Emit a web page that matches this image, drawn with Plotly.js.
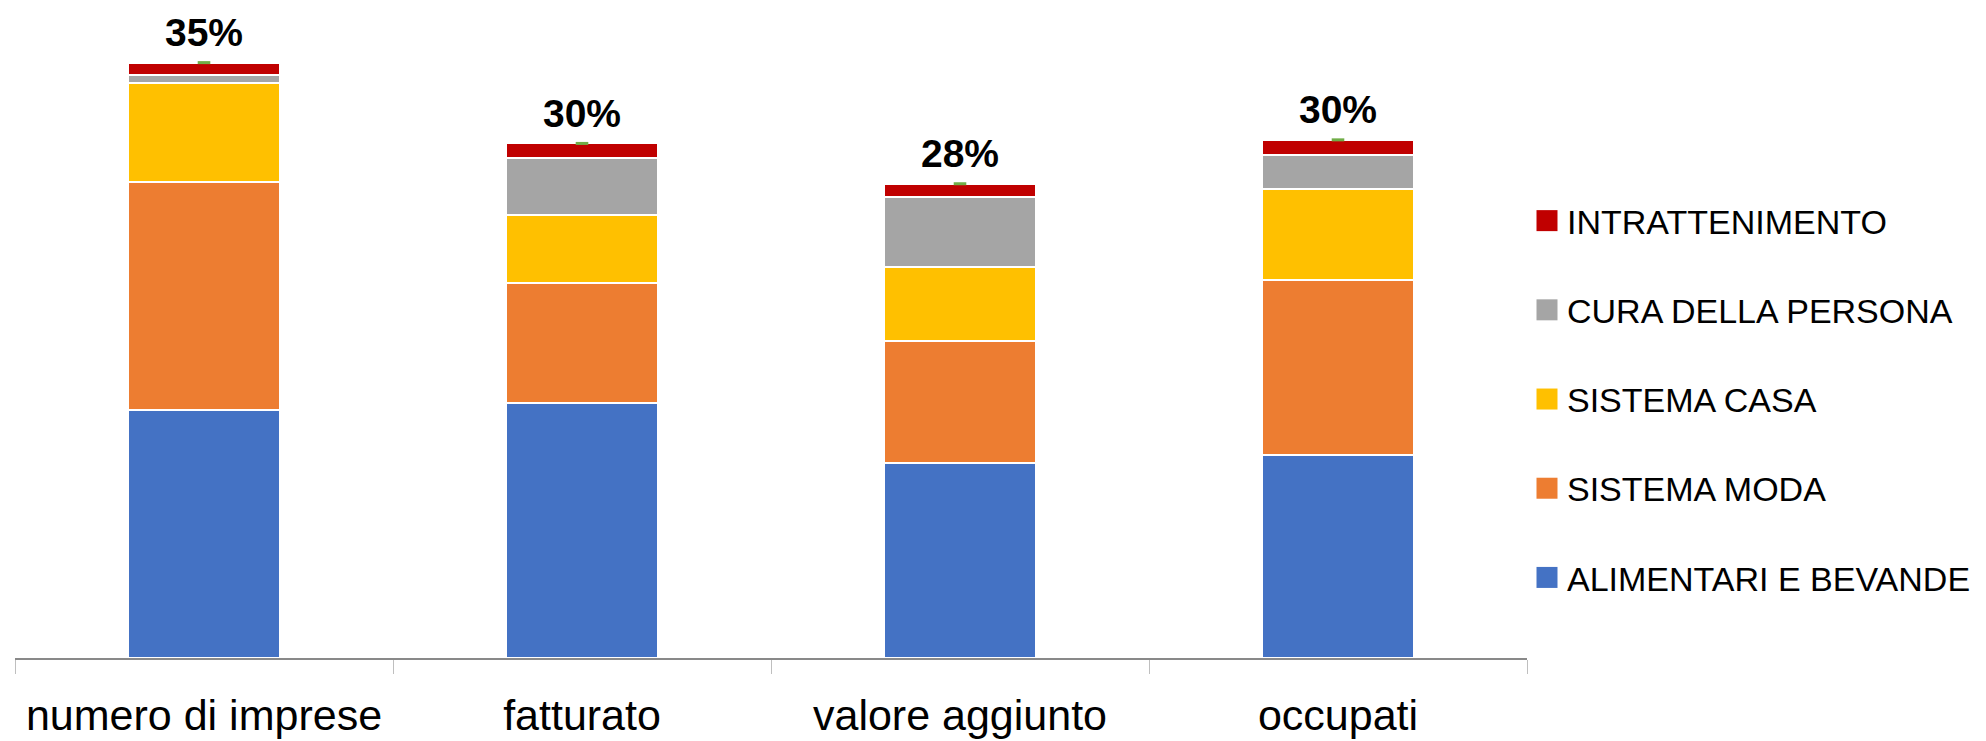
<!DOCTYPE html>
<html>
<head>
<meta charset="utf-8">
<script src="https://cdn.plot.ly/plotly-3.0.1.min.js"></script>
<style>
  html, body { margin: 0; padding: 0; background: #ffffff; }
  #chart { width: 1986px; height: 741px; }
</style>
</head>
<body>
<div id="chart"></div>
<script>
// ---- data (percent shares) ----
const categories = ["numero di imprese", "fatturato", "valore aggiunto", "occupati"];
const alimentari = [14.55, 14.98, 11.46, 11.93];
const moda       = [13.44, 7.07, 7.20, 10.28];
const casa       = [5.79, 4.01, 4.33, 5.37];
const cura       = [0.47, 3.34, 4.10, 2.00];
const intratt    = [0.75, 0.85, 0.79, 0.88];
const totalLabels = ["35%", "30%", "28%", "30%"];

const seriesNames = ["ALIMENTARI E BEVANDE", "SISTEMA MODA", "SISTEMA CASA", "CURA DELLA PERSONA", "INTRATTENIMENTO"];
const seriesValues = [alimentari, moda, casa, cura, intratt];
const seriesColors = ["#4472C4", "#ED7D31", "#FFC000", "#A5A5A5", "#C00000"];

const totals = categories.map((_, i) => seriesValues.reduce((s, arr) => s + arr[i], 0));

const FONT = "Liberation Sans, Arial, sans-serif";

const traces = seriesNames.map((name, k) => ({
  type: "bar",
  name: name,
  x: categories,
  y: seriesValues[k],
  width: 0.4,
  legendgroup: "g" + k,
  legendrank: 1000 - k,
  marker: { color: seriesColors[k], line: { color: "#ffffff", width: 2 } },
  hoverinfo: "name+y"
}));

traces.push({
  type: "scatter",
  mode: "markers+text",
  x: categories,
  y: totals,
  text: totalLabels,
  textposition: "top center",
  textfont: { family: FONT, size: 39, color: "#000000", weight: "bold" },
  marker: { symbol: "line-ew", size: 9, color: "#70AD47", line: { color: "#70AD47", width: 3 } },
  cliponaxis: false,
  showlegend: false,
  hoverinfo: "skip"
});

const layout = {
  width: 1986,
  height: 741,
  margin: { l: 15, r: 459, t: 40, b: 83, autoexpand: false },
  paper_bgcolor: "#ffffff",
  plot_bgcolor: "#ffffff",
  barmode: "stack",
  showlegend: true,
  font: { family: FONT, color: "#000000" },
  xaxis: {
    type: "category",
    showline: true,
    linecolor: "#898989",
    linewidth: 2,
    ticks: "outside",
    tickson: "boundaries",
    ticklen: 14,
    tickwidth: 1,
    tickcolor: "#BFBFBF",
    ticklabelstandoff: 18,
    tickfont: { family: FONT, size: 43, color: "#000000" },
    showgrid: false,
    zeroline: false,
    automargin: false,
    fixedrange: true
  },
  yaxis: {
    range: [0, 36.33],
    visible: false,
    showgrid: false,
    zeroline: false,
    fixedrange: true
  },
  legend: {
    x: 1.0,
    xanchor: "left",
    y: 0.754,
    yanchor: "top",
    traceorder: "grouped",
    tracegroupgap: 42,
    font: { family: FONT, size: 34, color: "#000000" },
    bgcolor: "rgba(0,0,0,0)",
    borderwidth: 0
  }
};

function enlargeLegendSymbols() {
  document.querySelectorAll("#chart .legend .legendpoints path").forEach(p => {
    p.setAttribute("d", "M10.5,10.5H-10.5V-10.5H10.5Z");
    p.style.strokeWidth = "0px";
  });
}

Plotly.newPlot("chart", traces, layout, { displayModeBar: false, staticPlot: true }).then(() => {
  enlargeLegendSymbols();
  setTimeout(enlargeLegendSymbols, 50);
  setTimeout(enlargeLegendSymbols, 300);
});
</script>
</body>
</html>
